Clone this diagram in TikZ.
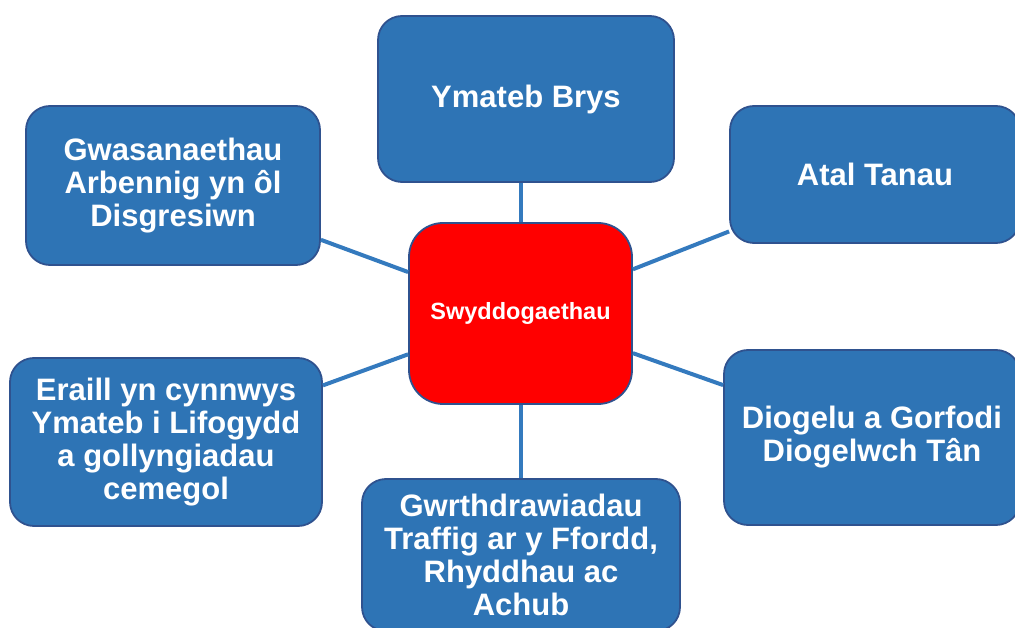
\documentclass[tikz,border=0pt]{standalone}
\usepackage{fontspec}
\setmainfont{Liberation Sans}
\definecolor{boxc}{RGB}{46,116,181}
\definecolor{bordc}{RGB}{47,82,143}
\definecolor{linec}{RGB}{52,122,190}
\begin{document}
\begin{tikzpicture}[x=1pt,y=-1pt,
  box/.style={draw=bordc, line width=1.8pt, fill=boxc, rounded corners=24pt,
    text=white, font=\bfseries\fontsize{31}{33}\selectfont, align=center, inner sep=0pt},
  hub/.style={draw=bordc, line width=1.8pt, fill=red, rounded corners=34pt,
    text=white, font=\bfseries\fontsize{23.5}{26}\selectfont, align=center, inner sep=0pt,
    minimum width=223pt, minimum height=181pt},
  conn/.style={draw=linec, line width=4pt}]
\useasboundingbox (0,0) rectangle (1015,628);
\clip (0,0) rectangle (1015,628);
\node[hub] (c) at (520.5,313.5) {Swyddogaethau};
\node[box, minimum width=296pt, minimum height=166pt] (yb) at (526,99) {Ymateb Brys};
\node[box, minimum width=290pt, minimum height=137pt] (at) at (875,174.5) {Atal Tanau};
\node[box, minimum width=294pt, minimum height=159pt] (gw) at (173,185.5) {Gwasanaethau\\Arbennig yn ôl\\Disgresiwn};
\node[box, minimum width=312pt, minimum height=168pt] (er) at (166,442) {Eraill yn cynnwys\\Ymateb i Lifogydd\\a gollyngiadau\\cemegol};
\node[box, minimum width=318pt, minimum height=152pt] (gr) at (521,555) {Gwrthdrawiadau\\Traffig ar y Ffordd,\\Rhyddhau ac\\Achub};
\node[box, minimum width=296pt, minimum height=175pt] (di) at (872,437.5) {Diogelu a Gorfodi\\Diogelwch Tân};
\draw[conn] (c.north) -- (c.north |- yb.south);
\draw[conn] (c) -- (at);
\draw[conn] (c) -- (gw);
\draw[conn] (c) -- (er);
\draw[conn] (c) -- (di);
\draw[conn] (c.south) -- (c.south |- gr.north);
\end{tikzpicture}
\end{document}
